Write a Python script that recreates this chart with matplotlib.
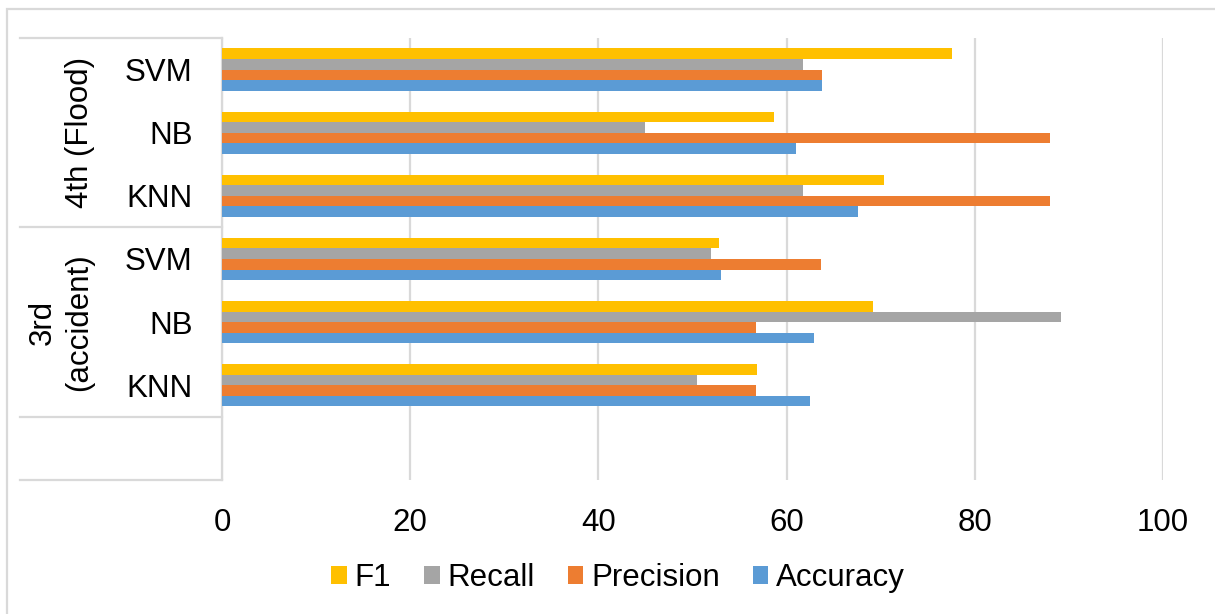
import matplotlib
matplotlib.use("Agg")
import matplotlib.pyplot as plt
from matplotlib.patches import Rectangle, Patch
import matplotlib.transforms as mtransforms

plt.rcParams['font.family'] = ['Liberation Sans', 'DejaVu Sans']

# Categories listed bottom to top (slot 0 is left empty)
models = ["KNN", "NB", "SVM", "KNN", "NB", "SVM"]
groups = ["3rd\n(accident)", "4th (Flood)"]

accuracy = [62.5, 62.9, 53.0, 67.6, 61.0, 63.8]
precision = [56.8, 56.8, 63.7, 88.0, 88.0, 63.8]
recall = [50.5, 89.2, 52.0, 61.7, 44.9, 61.7]
f1 = [56.9, 69.2, 52.8, 70.4, 58.7, 77.6]

series_names = ["Accuracy", "Precision", "Recall", "F1"]
series_values = [accuracy, precision, recall, f1]
colors = ["#5B9BD5", "#ED7D31", "#A5A5A5", "#FFC000"]

x_ticks = [0, 20, 40, 60, 80, 100]

W, H = 1215, 614
fig = plt.figure(figsize=(W / 100, H / 100), dpi=100)
ax = fig.add_axes([222 / W, 1 - 480 / H, (1163 - 222) / W, (480 - 38) / H])

grid_c = "#D9D9D9"
fs = 22.5

positions = list(range(1, len(models) + 1))
h = 0.167
for k, (name, vals, c) in enumerate(zip(series_names, series_values, colors)):
    off = (k - 1.5) * h
    ax.barh([p + off for p in positions], vals, height=h, color=c,
            edgecolor="none", label=name, zorder=3)

ax.set_xlim(0, 100)
ax.set_ylim(-0.5, 6.5)
ax.set_xticks(x_ticks)
ax.set_xticklabels([str(t) for t in x_ticks])
ax.set_yticks(positions)
ax.set_yticklabels(models)
ax.tick_params(axis="x", length=0, pad=20, labelsize=fs, colors="black")
ax.tick_params(axis="y", length=0, pad=21, labelsize=fs, colors="black")
ax.xaxis.grid(True, color=grid_c, linewidth=1.6, zorder=0)
ax.yaxis.grid(False)
for s in ["top", "right", "bottom"]:
    ax.spines[s].set_visible(False)
ax.spines["left"].set_color(grid_c)
ax.spines["left"].set_linewidth(1.6)

# Group separators in the category area
trans = mtransforms.blended_transform_factory(ax.transAxes, ax.transData)
x_left = (20 - 222) / (1163 - 222)
for yb in [6.5, 3.5, 0.5, -0.5]:
    ax.plot([x_left, 0], [yb, yb], transform=trans, color=grid_c,
            linewidth=1.6, clip_on=False, zorder=1)

# Group labels
ax.text((80 - 222) / (1163 - 222), 5.0, groups[1], transform=trans,
        rotation=90, ha="center", va="center", fontsize=fs, color="black")
ax.text((61 - 222) / (1163 - 222), 2.0, groups[0], transform=trans,
        rotation=90, ha="center", va="center", fontsize=fs, color="black",
        multialignment="center", linespacing=1.25)

# Chart border
fig.patches.append(Rectangle((7 / W, -0.05), 1.2, 1 - 9 / H + 0.05,
                             transform=fig.transFigure, fill=False,
                             edgecolor=grid_c, linewidth=1.6))

handles = [Patch(facecolor=c, edgecolor="none") for c in colors][::-1]
labels = series_names[::-1]
fig.legend(handles, labels, loc="center", bbox_to_anchor=(618 / W, 1 - 578 / H),
           ncol=4, frameon=False, fontsize=fs, handlelength=0.5,
           handleheight=0.5, handletextpad=0.25, columnspacing=1.05,
           borderaxespad=0)

fig.savefig("out.png", dpi=100, facecolor="white")
